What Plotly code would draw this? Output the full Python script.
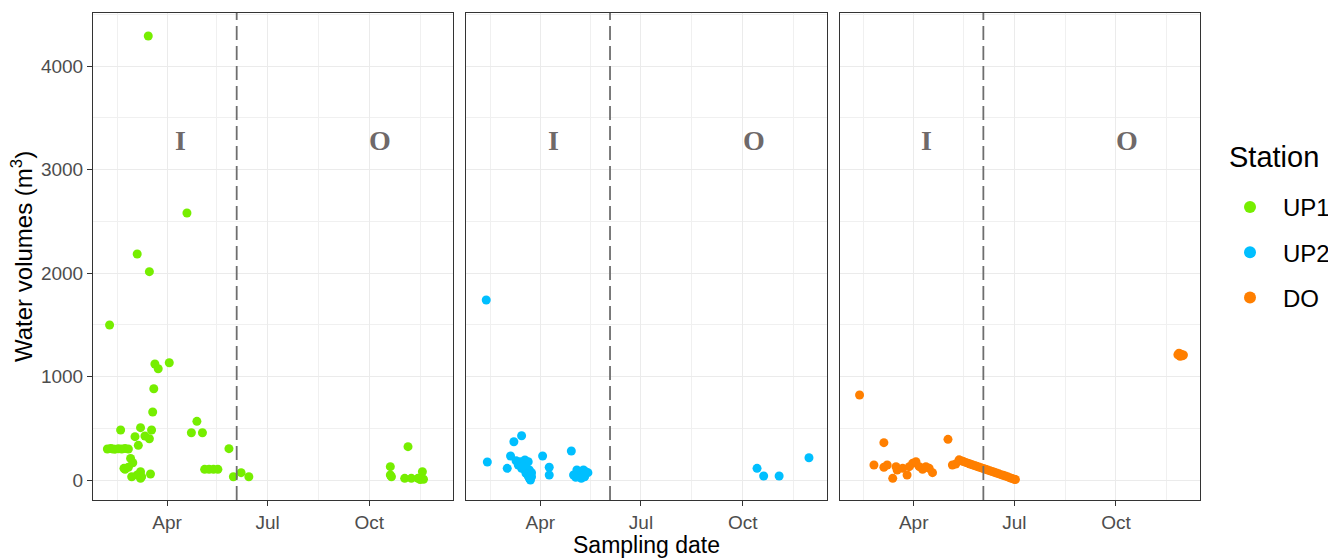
import plotly.graph_objects as go

# ---------------- data ----------------
stations = ["UP1", "UP2", "DO"]
colors = {"UP1": "#76EE00", "UP2": "#00BFFF", "DO": "#FF7F00"}

up1_dates = ["2021-02-06", "2021-02-09", "2021-02-11", "2021-02-13", "2021-02-16", "2021-02-19",
             "2021-02-22", "2021-02-25", "2021-02-08", "2021-02-18", "2021-02-21", "2021-02-22",
             "2021-02-25", "2021-02-27", "2021-02-28", "2021-03-01", "2021-03-03", "2021-03-05",
             "2021-03-05", "2021-03-06", "2021-03-08", "2021-03-08", "2021-03-09", "2021-03-08",
             "2021-03-12", "2021-03-15", "2021-03-16", "2021-03-16", "2021-03-17", "2021-03-18",
             "2021-03-19", "2021-03-20", "2021-03-21", "2021-03-24", "2021-04-03", "2021-04-19",
             "2021-04-23", "2021-04-28", "2021-05-03", "2021-05-05", "2021-05-09", "2021-05-13",
             "2021-05-17", "2021-05-27", "2021-05-31", "2021-06-07", "2021-06-14", "2021-10-20",
             "2021-10-20", "2021-10-21", "2021-11-02", "2021-11-05", "2021-11-08", "2021-11-14",
             "2021-11-16", "2021-11-18", "2021-11-19"]
up1_values = [300, 305, 300, 298, 302, 300, 305, 300, 1498, 483, 113, 103,
              123, 209, 32, 167, 419, 48,
              2184, 335, 506, 80, 32, 16,
              425, 4290, 2013, 399, 58, 483,
              657, 882, 1121, 1075, 1133, 2580,
              457, 567, 457, 103, 103, 103,
              103, 303, 32, 71, 32, 129,
              48, 32, 16, 322, 16, 16,
              5, 80, 7]

up2_dates = ["2021-02-11", "2021-02-12", "2021-03-02", "2021-03-05", "2021-03-08", "2021-03-15",
             "2021-03-14", "2021-03-18", "2021-03-21", "2021-03-12", "2021-03-15", "2021-03-18",
             "2021-03-19", "2021-03-21", "2021-03-22", "2021-03-24", "2021-03-22", "2021-03-16",
             "2021-03-24", "2021-03-10", "2021-03-23", "2021-04-03", "2021-04-09", "2021-04-09",
             "2021-04-29", "2021-05-01", "2021-05-04", "2021-05-07", "2021-05-10", "2021-05-11",
             "2021-05-08", "2021-05-14", "2021-05-03", "2021-05-12", "2021-10-14", "2021-10-20",
             "2021-11-03", "2021-11-30"]
up2_values = [1739, 174, 113, 232, 370, 428,
              177, 193, 177, 145, 113, 97,
              64, 39, 16, 32, 97, 129,
              71, 186, 0, 232, 123, 48,
              280, 48, 97, 48, 97, 32,
              16, 71, 26, 80, 113, 39,
              39, 215]

do_dates = ["2021-02-11", "2021-02-24", "2021-03-05", "2021-03-05", "2021-03-08", "2021-03-13",
            "2021-03-16", "2021-03-17", "2021-03-22", "2021-03-26", "2021-03-28", "2021-03-31",
            "2021-04-03", "2021-04-06", "2021-04-09", "2021-04-12", "2021-04-15", "2021-04-18",
            "2021-05-02", "2021-05-06", "2021-05-09", "2021-05-12", "2021-05-14", "2021-05-16",
            "2021-05-18", "2021-05-20", "2021-05-22", "2021-05-24", "2021-05-26", "2021-05-28",
            "2021-05-30", "2021-06-01", "2021-06-03", "2021-06-05", "2021-06-07", "2021-06-09",
            "2021-06-11", "2021-06-13", "2021-06-15", "2021-06-17", "2021-06-19", "2021-06-21",
            "2021-06-23", "2021-06-25", "2021-06-27", "2021-06-29", "2021-07-01", "2021-07-02",
            "2021-11-26", "2021-11-27", "2021-11-28", "2021-11-29", "2021-11-30", "2021-12-01"]
do_values = [821, 145, 361, 123, 145, 16,
             129, 97, 113, 48, 129, 161,
             177, 129, 103, 129, 113, 71,
             393, 145, 155, 195, 186, 178,
             170, 163, 155, 147, 140, 132,
             125, 118, 111, 104, 96, 89,
             82, 74, 67, 60, 52, 45,
             38, 31, 22, 14, 8, 5,
             1210, 1225, 1195, 1215, 1200, 1208]

data = {"UP1": (up1_dates, up1_values), "UP2": (up2_dates, up2_values), "DO": (do_dates, do_values)}

period_split = "2021-06-03"
period_labels = [("I", "2021-04-13", 3285), ("O", "2021-10-11", 3285)]

x_range = ["2021-01-24", "2021-12-16"]
x_major = ["2021-04-01", "2021-07-01", "2021-10-01"]
x_major_text = ["Apr", "Jul", "Oct"]
x_minor = ["2021-02-15", "2021-05-16", "2021-08-16", "2021-11-16"]
y_major = [0, 1000, 2000, 3000, 4000]
y_minor = [500, 1500, 2500, 3500, 4500]
y_range = [-193, 4512]

# ---------------- figure ----------------
OFF = 8  # page body margin
W, H = 1328, 550
L, T = 93 - OFF, 13 - OFF
R = W - (1200 - OFF)
B = H - (500 - OFF)
pw = W - L - R
ph = H - T - B


def px(xpage):
    return (xpage - OFF - L) / pw


def py(ypage):
    return (H - B - (ypage - OFF)) / ph


gap = 13
cw = (pw - 2 * gap) / 3
domains = [[(i * (cw + gap)) / pw, (i * (cw + gap) + cw) / pw] for i in range(3)]

fig = go.Figure()
font_family = "Arial, Liberation Sans, sans-serif"

for i, st in enumerate(stations):
    d, v = data[st]
    ax = "" if i == 0 else str(i + 1)
    fig.add_trace(go.Scatter(
        x=d, y=v, mode="markers", name=st,
        marker=dict(color=colors[st], size=9, line=dict(width=0)),
        xaxis="x" + ax, yaxis="y" + ax, legendgroup=st,
    ))
    xa = dict(
        domain=domains[i], type="date", range=x_range,
        tickmode="array", tickvals=x_major, ticktext=x_major_text,
        showgrid=True, gridcolor="#EBEBEB", gridwidth=1.2,
        minor=dict(tickvals=x_minor, showgrid=True, gridcolor="#F0F0F0", gridwidth=0.7, ticks=""),
        ticks="outside", ticklen=5, tickcolor="#333333", tickwidth=1,
        tickfont=dict(size=19, color="#4D4D4D", family=font_family),
        showline=True, linecolor="#333333", linewidth=1, mirror=True,
        zeroline=False, anchor="y" + ax,
    )
    ya = dict(
        range=y_range, tickmode="array", tickvals=y_major,
        showgrid=True, gridcolor="#EBEBEB", gridwidth=1.2,
        minor=dict(tickvals=y_minor, showgrid=True, gridcolor="#F0F0F0", gridwidth=0.7, ticks=""),
        showline=True, linecolor="#333333", linewidth=1, mirror=True,
        zeroline=False, anchor="x" + ax, domain=[0, 1],
    )
    if i == 0:
        ya.update(ticks="outside", ticklen=5, tickcolor="#333333", tickwidth=1,
                  tickfont=dict(size=19, color="#4D4D4D", family=font_family))
    else:
        ya.update(showticklabels=False, ticks="", matches="y")
    fig.layout["xaxis" + ax] = xa
    fig.layout["yaxis" + ax] = ya

    fig.add_shape(type="line", xref="x" + ax, yref="y" + ax + " domain",
                  x0=period_split, x1=period_split, y0=0, y1=1,
                  line=dict(color="#6E6E6E", width=1.8, dash="14px,6px"))
    for lab, lx, ly in period_labels:
        fig.add_annotation(x=lx, y=ly, xref="x" + ax, yref="y" + ax, text="<b>" + lab + "</b>",
                           showarrow=False, xanchor="center", yanchor="middle",
                           font=dict(family="Liberation Serif, Times New Roman, serif", size=28, color="#6F6969"))

fig.add_annotation(x=px(646), y=py(545), xref="paper", yref="paper",
                   text="Sampling date", showarrow=False, xanchor="center", yanchor="middle",
                   font=dict(size=23, color="black", family=font_family))
fig.add_annotation(x=px(22), y=py(256), xref="paper", yref="paper", textangle=-90,
                   text="Water volumes (m<sup>3</sup>)", showarrow=False, xanchor="center", yanchor="middle",
                   font=dict(size=24, color="black", family=font_family))
fig.add_annotation(x=px(1227), y=py(157), xref="paper", yref="paper",
                   text="Station", showarrow=False, xanchor="left", yanchor="middle",
                   font=dict(size=29, color="black", family=font_family))

fig.update_layout(
    width=W, height=H, margin=dict(l=L, r=R, t=T, b=B, autoexpand=False),
    paper_bgcolor="white", plot_bgcolor="white",
    font=dict(family=font_family),
    showlegend=True,
    legend=dict(
        x=px(1217), y=py(185), xanchor="left", yanchor="top",
        font=dict(size=24, color="black", family=font_family),
        tracegroupgap=11, itemsizing="constant", itemwidth=56, bgcolor="rgba(0,0,0,0)",
    ),
)

fig.write_html("out.html")
